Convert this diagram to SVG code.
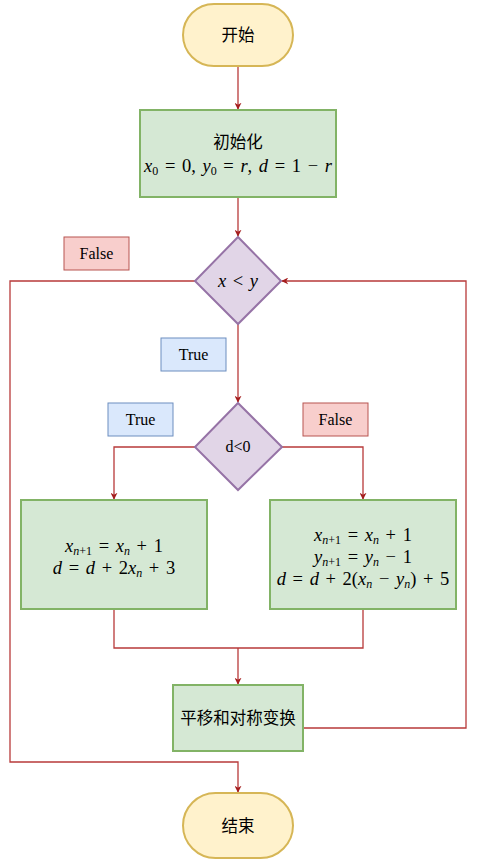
<svg xmlns="http://www.w3.org/2000/svg" width="478" height="860" viewBox="0 0 478 860">
<style>
.term{fill:#fff2cc;stroke:#d6b656;stroke-width:2}
.proc{fill:#d5e8d4;stroke:#82b366;stroke-width:2}
.dec{fill:#e1d5e7;stroke:#9673a6;stroke-width:2}
.lf{fill:#f8cecc;stroke:#b85450;stroke-width:1}
.lt{fill:#dae8fc;stroke:#6c8ebf;stroke-width:1}
.cn{fill:none;stroke:#b83a3a;stroke-width:1.3}
.zh{font-family:"Noto Sans CJK SC","Noto Sans",sans-serif;font-size:16.5px;fill:#000;text-anchor:middle}
.lb{font-family:"Liberation Serif",serif;font-size:16px;fill:#000;text-anchor:middle}
.m{font-family:"Liberation Serif",serif;font-size:18.5px;fill:#000;text-anchor:middle;word-spacing:2px}
.i{font-style:italic}
.s{font-size:12px}
</style>
<defs>
<marker id="ah" viewBox="0 0 10 10" refX="9" refY="5" markerWidth="7" markerHeight="7" orient="auto" markerUnits="userSpaceOnUse">
<path d="M0,0 L10,5 L0,10 L3,5 Z" fill="#a51e1e"/>
</marker>
</defs>
<g id="connectors">
<path class="cn" d="M238,67 V109" marker-end="url(#ah)"/>
<path class="cn" d="M238,197 V236" marker-end="url(#ah)"/>
<path class="cn" d="M238,324 V402" marker-end="url(#ah)"/>
<path class="cn" d="M195,447 H114 V499" marker-end="url(#ah)"/>
<path class="cn" d="M281,447 H363 V499" marker-end="url(#ah)"/>
<path class="cn" d="M114,609 V648 H363 V609"/>
<path class="cn" d="M238,648 V684" marker-end="url(#ah)"/>
<path class="cn" d="M303,728 H466 V281 H282" marker-end="url(#ah)"/>
<path class="cn" d="M195,281 H10 V762 H238 V792" marker-end="url(#ah)"/>
</g>
<g id="start">
<rect class="term" x="183" y="4" width="110" height="62" rx="31"/>
<text class="zh" x="238" y="41">开始</text>
</g>
<g id="init">
<rect class="proc" x="140" y="110" width="196" height="87"/>
<text class="zh" x="238" y="148">初始化</text>
<text class="m" x="238" y="172"><tspan class="i">x</tspan><tspan class="s" dy="3">0</tspan><tspan dy="-3"> = 0, </tspan><tspan class="i">y</tspan><tspan class="s" dy="3">0</tspan><tspan dy="-3"> = </tspan><tspan class="i">r</tspan><tspan>, </tspan><tspan class="i">d</tspan><tspan> = 1 − </tspan><tspan class="i">r</tspan></text>
</g>
<g id="cond1">
<path class="dec" d="M238,237 L281,281 L238,324 L195,281 Z"/>
<text class="m" x="238" y="287"><tspan class="i">x</tspan> &lt; <tspan class="i">y</tspan></text>
</g>
<g id="label-false1">
<rect class="lf" x="64" y="237" width="65" height="33"/>
<text class="lb" x="96.5" y="259">False</text>
</g>
<g id="label-true1">
<rect class="lt" x="161" y="338" width="65" height="33"/>
<text class="lb" x="193.5" y="360">True</text>
</g>
<g id="cond2">
<path class="dec" d="M238,403 L282,447 L238,490 L195,447 Z"/>
<text class="lb" x="238" y="452">d&lt;0</text>
</g>
<g id="label-true2">
<rect class="lt" x="108" y="403" width="65" height="33"/>
<text class="lb" x="140.5" y="425">True</text>
</g>
<g id="label-false2">
<rect class="lf" x="303" y="403" width="65" height="33"/>
<text class="lb" x="335.5" y="425">False</text>
</g>
<g id="box-left">
<rect class="proc" x="21" y="500" width="186" height="109"/>
<text class="m" x="114" y="552"><tspan class="i">x</tspan><tspan class="s i" dy="3">n</tspan><tspan class="s">+1</tspan><tspan dy="-3"> = </tspan><tspan class="i">x</tspan><tspan class="s i" dy="3">n</tspan><tspan dy="-3"> + 1</tspan></text>
<text class="m" x="114" y="574"><tspan class="i">d</tspan> = <tspan class="i">d</tspan> + 2<tspan class="i">x</tspan><tspan class="s i" dy="3">n</tspan><tspan dy="-3"> + 3</tspan></text>
</g>
<g id="box-right">
<rect class="proc" x="270" y="500" width="186" height="109"/>
<text class="m" x="363" y="541"><tspan class="i">x</tspan><tspan class="s i" dy="3">n</tspan><tspan class="s">+1</tspan><tspan dy="-3"> = </tspan><tspan class="i">x</tspan><tspan class="s i" dy="3">n</tspan><tspan dy="-3"> + 1</tspan></text>
<text class="m" x="363" y="563"><tspan class="i">y</tspan><tspan class="s i" dy="3">n</tspan><tspan class="s">+1</tspan><tspan dy="-3"> = </tspan><tspan class="i">y</tspan><tspan class="s i" dy="3">n</tspan><tspan dy="-3"> − 1</tspan></text>
<text class="m" x="363" y="585"><tspan class="i">d</tspan> = <tspan class="i">d</tspan> + 2(<tspan class="i">x</tspan><tspan class="s i" dy="3">n</tspan><tspan dy="-3"> − </tspan><tspan class="i">y</tspan><tspan class="s i" dy="3">n</tspan><tspan dy="-3">) + 5</tspan></text>
</g>
<g id="transform">
<rect class="proc" x="173" y="685" width="130" height="66"/>
<text class="zh" x="238" y="724">平移和对称变换</text>
</g>
<g id="end">
<rect class="term" x="183" y="793" width="110" height="65" rx="32.5"/>
<text class="zh" x="238" y="832">结束</text>
</g>
</svg>
